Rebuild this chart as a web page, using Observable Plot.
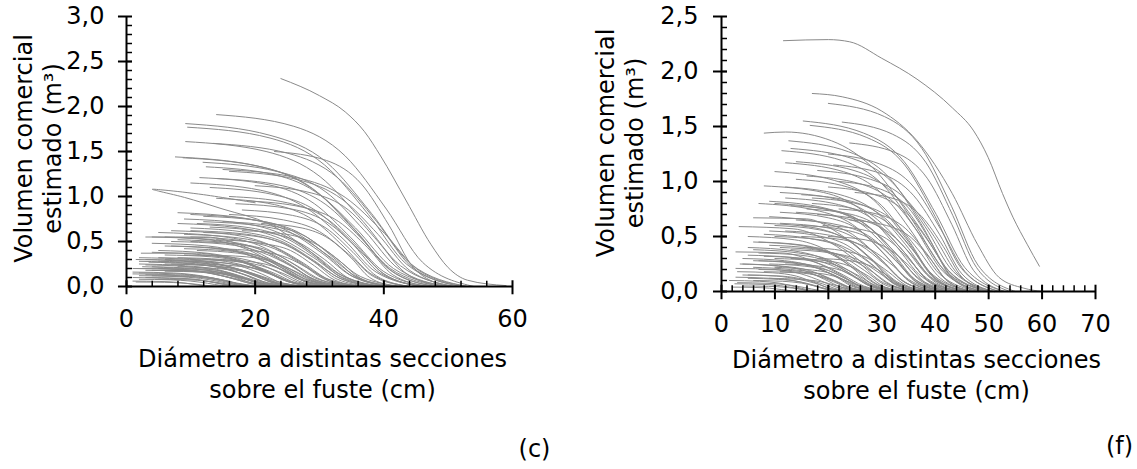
<!DOCTYPE html>
<html><head><meta charset="utf-8">
<script src="https://cdn.jsdelivr.net/npm/d3@7"></script>
<script src="https://cdn.jsdelivr.net/npm/@observablehq/plot@0.6"></script>
<style>
html,body{margin:0;padding:0;background:#fff;}
#wrap{position:relative;width:1137px;height:469px;overflow:hidden;background:#fff;}
#wrap svg{position:absolute;top:0;}
</style></head><body><div id="wrap"></div>
<script>
// ---------- Panel (c) ----------
const xTicksC = [0, 20, 40, 60];
const yTicksC = [0, 0.5, 1.0, 1.5, 2.0, 2.5, 3.0];
// each curve: x0,y0, x1,y1, ... (diameter cm, volume m3)
const curvesC = [
 [24,2.31,30,2.12,34,1.94,37,1.72,39.5,1.45,43.5,0.95,47.3,0.47,50,0.21,53,0.07,59,0.01],
 [14,1.91,26,1.78,34,1.45,40.4,0.86,46,0.27,54,0],
 [9.2,1.81,22.3,1.68,31.1,1.38,38.1,0.81,44.2,0.25,53,0],
 [9.5,1.77,22.3,1.65,30.8,1.35,37.6,0.8,43.5,0.25,52,0],
 [9.2,1.61,21.7,1.5,30.1,1.22,36.8,0.72,42.6,0.23,51,0],
 [13.5,1.59,25.1,1.48,32.8,1.21,38.9,0.72,44.3,0.22,52,0],
 [23,1.5,31.1,1.4,36.5,1.14,40.8,0.68,44.6,0.21,50,0],
 [7.6,1.44,20.3,1.34,28.8,1.09,35.6,0.65,41.5,0.2,50,0],
 [8.8,1.43,20.9,1.33,28.9,1.09,35.3,0.64,41,0.2,49,0],
 [11.9,1.38,23.3,1.28,31,1.05,37,0.62,42.4,0.19,50,0],
 [12.4,1.33,23.1,1.24,30.2,1.01,35.9,0.6,40.9,0.19,48,0],
 [11.4,1.21,22.1,1.13,29.2,0.92,34.9,0.54,39.9,0.17,47,0],
 [16,1.28,26.5,1.19,33.5,0.97,39.1,0.58,44,0.18,51,0],
 [10,1.15,20.8,1.07,28,0.87,33.8,0.52,38.8,0.16,46,0],
 [16,1,25,0.93,31,0.76,35.8,0.45,40,0.14,46,0],
 [14,0.98,23,0.91,29,0.74,33.8,0.44,38,0.14,44,0],
 [8,0.82,18.2,0.76,25,0.62,30.4,0.37,35.2,0.11,42,0],
 [10,0.8,19.9,0.74,26.5,0.61,31.8,0.36,36.4,0.11,43,0],
 [12,0.78,20.7,0.73,26.5,0.59,31.1,0.35,35.2,0.11,41,0],
 [9,0.75,18.3,0.7,24.5,0.57,29.5,0.34,33.8,0.11,40,0],
 [18,0.85,25.8,0.79,31,0.65,35.2,0.38,38.8,0.12,44,0],
 [15,0.72,22.8,0.67,28,0.55,32.2,0.32,35.8,0.1,41,0],
 [11,0.7,19.4,0.65,25,0.53,29.5,0.32,33.4,0.1,39,0],
 [13,0.66,21.1,0.61,26.5,0.5,30.8,0.3,34.6,0.09,40,0],
 [7,0.62,16,0.58,22,0.47,26.8,0.28,31,0.09,37,0],
 [5,0.6,14.3,0.56,20.5,0.46,25.5,0.27,29.8,0.08,36,0],
 [9,0.58,17.4,0.54,23,0.44,27.5,0.26,31.4,0.08,37,0],
 [12,0.6,19.8,0.56,25,0.46,29.2,0.27,32.8,0.08,38,0],
 [3,0.55,12.3,0.55,18.5,0.44,23.5,0.26,27.8,0.08,34,0],
 [6,0.55,14.7,0.51,20.5,0.42,25.1,0.25,29.2,0.08,35,0],
 [8,0.52,16.4,0.48,22,0.4,26.5,0.23,30.4,0.07,36,0],
 [10,0.5,17.2,0.47,22,0.38,25.8,0.23,29.2,0.07,34,0],
 [14,0.52,20.9,0.48,25.5,0.4,29.2,0.23,32.4,0.07,37,0],
 [4,0.48,12.7,0.45,18.5,0.36,23.1,0.22,27.2,0.07,33,0],
 [7,0.45,15.1,0.42,20.5,0.34,24.8,0.2,28.6,0.06,34,0],
 [2.3,0.37,10.9,0.37,16.7,0.3,21.2,0.18,25.3,0.05,31,0],
 [9,0.42,16.5,0.39,21.5,0.32,25.5,0.19,29,0.06,34,0],
 [5,0.4,12.5,0.37,17.5,0.3,21.5,0.18,25,0.06,30,0],
 [11,0.4,17.3,0.37,21.5,0.3,24.9,0.18,27.8,0.06,32,0],
 [6,0.35,13.2,0.33,18,0.27,21.8,0.16,25.2,0.05,30,0],
 [3,0.3,10.5,0.28,15.5,0.23,19.5,0.14,23,0.04,28,0],
 [8,0.32,14.9,0.3,19.5,0.24,23.2,0.14,26.4,0.04,31,0],
 [2,0.25,9.2,0.23,14,0.19,17.8,0.11,21.2,0.035,26,0],
 [5,0.28,11.9,0.26,16.5,0.21,20.2,0.13,23.4,0.04,28,0],
 [1.5,0.2,8.3,0.19,12.8,0.15,16.4,0.09,19.5,0.03,24,0],
 [4,0.22,10.6,0.2,15,0.17,18.5,0.1,21.6,0.03,26,0],
 [7,0.25,13,0.23,17,0.19,20.2,0.11,23,0.035,27,0],
 [2,0.15,8,0.14,12,0.11,15.2,0.07,18,0.02,22,0],
 [3,0.18,9.3,0.17,13.5,0.14,16.9,0.08,19.8,0.025,24,0],
 [1,0.1,6.7,0.09,10.5,0.08,13.5,0.045,16.2,0.014,20,0],
 [6,0.17,11.7,0.16,15.5,0.13,18.5,0.08,21.2,0.024,25,0],
 [2,0.08,6.8,0.074,10,0.06,12.6,0.036,14.8,0.011,18,0],
 [4,0.12,9.4,0.11,13,0.09,15.9,0.054,18.4,0.017,22,0],
 [1.5,0.05,5.9,0.047,8.8,0.038,11.1,0.023,13.1,0.007,16,0],
 [20,1.12,28.7,1.04,34.5,0.85,39.1,0.5,43.2,0.16,49,0],
 [17,0.92,25.7,0.86,31.5,0.7,36.1,0.41,40.2,0.13,46,0],
 [13,1.1,22.9,1.02,29.5,0.84,34.8,0.5,39.4,0.15,46,0],
 [21,0.7,27.3,0.65,31.5,0.53,34.9,0.32,37.8,0.1,42,0],
 [18,0.62,24.9,0.58,29.5,0.47,33.2,0.28,36.4,0.09,41,0],
 [15,1.3,26.4,1.21,34,0.99,40.1,0.59,45.4,0.18,53,0],
 [1,0.14,7.6,0.13,12,0.11,15.5,0.063,18.6,0.02,23,0],
 [3,0.24,9.6,0.22,14,0.18,17.5,0.11,20.6,0.034,25,0],
 [5,0.32,12.8,0.3,18,0.24,22.2,0.14,25.8,0.045,31,0],
 [2,0.28,9.5,0.26,14.5,0.21,18.5,0.13,22,0.04,27,0],
 [9,0.28,15.3,0.26,19.5,0.21,22.9,0.13,25.8,0.04,30,0],
 [6,0.45,14.1,0.42,19.5,0.34,23.8,0.2,27.6,0.06,33,0],
 [10,0.62,18.7,0.58,24.5,0.47,29.1,0.28,33.2,0.09,39,0],
 [8,0.7,17.6,0.65,24,0.53,29.1,0.32,33.6,0.1,40,0],
 [1,0.2,8.2,0.19,13,0.15,16.8,0.09,20.2,0.03,25,0],
 [2,0.12,7.7,0.11,11.5,0.09,14.5,0.054,17.2,0.017,21,0],
 [3,0.1,7.8,0.093,11,0.076,13.6,0.045,15.8,0.014,19,0],
 [4,0.18,10.6,0.17,15,0.14,18.5,0.08,21.6,0.025,26,0],
 [6,0.25,12.9,0.23,17.5,0.19,21.2,0.11,24.4,0.035,29,0],
 [8,0.22,14,0.2,18,0.17,21.2,0.1,24,0.03,28,0],
 [10,0.3,16.6,0.28,21,0.23,24.5,0.14,27.6,0.04,32,0],
 [12,0.35,18.6,0.33,23,0.27,26.5,0.16,29.6,0.05,34,0],
 [2,0.32,9.8,0.3,15,0.24,19.2,0.14,22.8,0.045,28,0],
 [4,0.38,12.1,0.35,17.5,0.29,21.8,0.17,25.6,0.05,31,0],
 [7,0.5,15.4,0.47,21,0.38,25.5,0.23,29.4,0.07,35,0],
 [10,0.55,17.8,0.51,23,0.42,27.2,0.25,30.8,0.08,36,0],
 [12,0.72,21,0.67,27,0.55,31.8,0.32,36,0.1,42,0],
 [16,0.8,24.4,0.74,30,0.61,34.5,0.36,38.4,0.11,44,0],
 [19,0.95,27.4,0.88,33,0.72,37.5,0.43,41.4,0.13,47,0],
 [14,1.2,24.2,1.12,31,0.91,36.4,0.54,41.2,0.17,48,0],
 [10,0.65,18.7,0.6,24.5,0.49,29.1,0.29,33.2,0.09,39,0],
 [1,0.06,5.2,0.056,8,0.046,10.2,0.027,12.2,0.008,15,0],
 [5,0.08,9.5,0.074,12.5,0.06,14.9,0.036,17,0.011,20,0],
 [14,0.42,20.6,0.39,25,0.32,28.5,0.19,31.6,0.06,36,0],
 [1.5,0.3,9,0.28,14,0.23,18,0.14,21.5,0.04,27,0],
 [2.5,0.22,9,0.2,13.5,0.17,17,0.1,20,0.03,25,0],
 [3.5,0.27,10.5,0.25,15,0.2,18.8,0.12,22,0.038,27,0],
 [5,0.2,11,0.19,15,0.15,18.3,0.09,21,0.028,25,0],
 [6,0.3,12.8,0.28,17.5,0.23,21,0.14,24.2,0.04,29,0],
 [7,0.18,12.5,0.17,16,0.14,18.9,0.08,21.5,0.025,25,0],
 [9,0.35,15.6,0.33,20,0.27,23.5,0.16,26.6,0.05,31,0],
 [11,0.25,16.7,0.23,20.5,0.19,23.5,0.11,26.2,0.035,30,0],
 [1,0.16,7.3,0.15,11.5,0.12,14.9,0.072,17.8,0.022,22,0],
 [3,0.13,8.4,0.12,12,0.1,14.9,0.06,17.4,0.018,21,0],
 [13,0.3,18.7,0.28,22.5,0.23,25.5,0.14,28.2,0.04,32,0],
 [4,0.55,12.7,0.52,18.5,0.42,23.1,0.25,27.2,0.08,33,0]
];
// the folded curve near 1,08
const loopC = [20,0.93,12,1.02,6,1.07,4,1.08,5,1.06,9,0.99,15,0.86,22,0.7,28,0.42,33,0.14,38,0.02,41,0];

// ---------- Panel (f) ----------
const xTicksF = [0, 10, 20, 30, 40, 50, 60, 70];
const yTicksF = [0, 0.5, 1.0, 1.5, 2.0, 2.5];
const curvesF = [
 [11.6,2.28,20,2.29,24,2.27,30,2.12,36.6,1.93,43.2,1.67,47.2,1.46,49.9,1.22,52.6,0.89,54.6,0.67,57.2,0.43,59.5,0.23],
 [17,1.8,22.6,1.77,30,1.64,36.6,1.37,43.2,0.89,47.9,0.43,51.9,0.13,56.6,0.03,60,0],
 [20,1.71,30.5,1.59,37.5,1.3,43.1,0.77,48,0.24,55,0],
 [15.3,1.55,26.6,1.44,34.2,1.18,40.2,0.7,45.5,0.22,53,0],
 [16.6,1.51,27.2,1.4,34.3,1.15,40,0.68,44.9,0.21,52,0],
 [22.6,1.54,32,1.43,38.3,1.17,43.3,0.69,47.7,0.22,54,0],
 [8,1.44,12,1.45,20.6,1.37,29,1.09,35.7,0.65,41.6,0.2,50,0],
 [12.6,1.37,23.8,1.27,31.3,1.04,37.3,0.62,42.5,0.19,50,0],
 [11.3,1.28,22.6,1.19,30.2,0.97,36.2,0.58,41.5,0.18,49,0],
 [12,1.17,22.8,1.09,30,0.89,35.8,0.53,40.8,0.16,48,0],
 [14,1.18,24.8,1.1,32,0.9,37.8,0.53,42.8,0.17,50,0],
 [10,1.09,21.1,1.01,28.5,0.83,34.4,0.49,39.6,0.15,47,0],
 [14,1.02,23.6,0.95,30,0.78,35.1,0.46,39.6,0.14,46,0],
 [8,0.96,19.1,0.9,26.5,0.73,32.4,0.43,37.6,0.13,45,0],
 [18,1.1,27.9,1.02,34.5,0.84,39.8,0.5,44.4,0.15,51,0],
 [20,1.25,29.6,1.16,36,0.95,41.1,0.56,45.6,0.18,52,0],
 [24,1.35,32.7,1.26,38.5,1.03,43.1,0.61,47.2,0.19,53,0],
 [9,0.82,19.2,0.76,26,0.62,31.4,0.37,36.2,0.11,43,0],
 [10,0.8,20.2,0.74,27,0.61,32.4,0.36,37.2,0.11,44,0],
 [12,0.85,21.9,0.79,28.5,0.65,33.8,0.38,38.4,0.12,45,0],
 [15,0.88,24.3,0.82,30.5,0.67,35.5,0.4,39.8,0.12,46,0],
 [13,0.78,21.7,0.73,27.5,0.59,32.1,0.35,36.2,0.11,42,0],
 [16,0.75,24.4,0.7,30,0.57,34.5,0.34,38.4,0.11,44,0],
 [11,0.72,20,0.67,26,0.55,30.8,0.32,35,0.1,41,0],
 [9,0.68,18.3,0.63,24.5,0.52,29.5,0.31,33.8,0.1,40,0],
 [6,0.67,15.9,0.66,22.5,0.51,27.8,0.3,32.4,0.09,39,0],
 [14,0.65,22.4,0.6,28,0.49,32.5,0.29,36.4,0.09,42,0],
 [18,0.7,26.1,0.65,31.5,0.53,35.8,0.32,39.6,0.1,45,0],
 [10,0.6,18.4,0.56,24,0.46,28.5,0.27,32.4,0.08,38,0],
 [3.3,0.59,13.4,0.57,20.2,0.45,25.5,0.27,30.3,0.08,37,0],
 [8,0.52,16.7,0.48,22.5,0.4,27.1,0.23,31.2,0.07,37,0],
 [10,0.5,18.4,0.47,24,0.38,28.5,0.23,32.4,0.07,38,0],
 [12,0.55,20.4,0.51,26,0.42,30.5,0.25,34.4,0.08,40,0],
 [7,0.45,15.4,0.42,21,0.34,25.5,0.2,29.4,0.06,35,0],
 [9,0.42,17.1,0.39,22.5,0.32,26.8,0.19,30.6,0.06,36,0],
 [2.7,0.36,11.5,0.35,17.4,0.27,22,0.16,26.1,0.05,32,0],
 [6,0.38,14.4,0.35,20,0.29,24.5,0.17,28.4,0.05,34,0],
 [11,0.4,18.8,0.37,24,0.3,28.2,0.18,31.8,0.06,37,0],
 [5,0.33,13.1,0.31,18.5,0.25,22.8,0.15,26.6,0.05,32,0],
 [8,0.32,15.5,0.3,20.5,0.24,24.5,0.14,28,0.045,33,0],
 [13,0.38,20.5,0.35,25.5,0.29,29.5,0.17,33,0.05,38,0],
 [7,0.28,14.2,0.26,19,0.21,22.8,0.13,26.2,0.04,31,0],
 [10,0.3,17.2,0.28,22,0.23,25.8,0.14,29.2,0.04,34,0],
 [4,0.25,11.5,0.23,16.5,0.19,20.5,0.11,24,0.035,29,0],
 [2.7,0.21,10,0.2,14.9,0.16,18.7,0.095,22.1,0.03,27,0],
 [6,0.22,12.9,0.2,17.5,0.17,21.2,0.1,24.4,0.03,29,0],
 [2.7,0.13,9.1,0.12,13.4,0.1,16.8,0.06,19.7,0.018,24,0],
 [5,0.15,11.3,0.14,15.5,0.11,18.9,0.07,21.8,0.02,26,0],
 [8,0.18,14.3,0.17,18.5,0.14,21.9,0.08,24.8,0.025,29,0],
 [3,0.08,8.7,0.074,12.5,0.06,15.5,0.036,18.2,0.011,22,0],
 [6,0.1,11.4,0.093,15,0.076,17.9,0.045,20.4,0.014,24,0],
 [4,0.05,8.8,0.047,12,0.038,14.6,0.023,16.8,0.007,20,0],
 [9,0.12,14.7,0.11,18.5,0.09,21.5,0.054,24.2,0.017,28,0],
 [2,0.04,6.2,0.037,9,0.03,11.2,0.018,13.2,0.006,16,0],
 [20,0.95,28.7,0.88,34.5,0.72,39.1,0.43,43.2,0.13,49,0],
 [22,1,29.8,0.93,35,0.76,39.2,0.45,42.8,0.14,48,0],
 [17,0.85,26,0.79,32,0.65,36.8,0.38,41,0.12,47,0],
 [25,0.9,32.5,0.84,37.5,0.68,41.5,0.41,45,0.13,50,0],
 [19,0.6,26.5,0.56,31.5,0.46,35.5,0.27,39,0.08,44,0],
 [15,0.5,22.8,0.47,28,0.38,32.2,0.23,35.8,0.07,41,0],
 [22,0.75,29.5,0.7,34.5,0.57,38.5,0.34,42,0.11,47,0],
 [11,0.9,21.5,0.84,28.5,0.68,34.1,0.41,39,0.13,46,0],
 [13,1.3,24.4,1.21,32,0.99,38.1,0.59,43.4,0.18,51,0],
 [7,0.8,17.5,0.74,24.5,0.61,30.1,0.36,35,0.11,42,0],
 [5,0.5,13.7,0.47,19.5,0.38,24.1,0.23,28.2,0.07,34,0],
 [16,0.4,22.9,0.37,27.5,0.3,31.2,0.18,34.4,0.06,39,0],
 [12,0.25,18.3,0.23,22.5,0.19,25.9,0.11,28.8,0.035,33,0],
 [18,0.3,24,0.28,28,0.23,31.2,0.14,34,0.04,38,0],
 [4,0.3,11.8,0.28,17,0.23,21.2,0.14,24.8,0.04,30,0],
 [6,0.45,14.7,0.42,20.5,0.34,25.1,0.2,29.2,0.06,35,0],
 [9,0.55,17.7,0.51,23.5,0.42,28.1,0.25,32.2,0.08,38,0],
 [11,0.62,19.7,0.58,25.5,0.47,30.1,0.28,34.2,0.09,40,0],
 [14,0.72,22.7,0.67,28.5,0.55,33.1,0.32,37.2,0.1,43,0],
 [17,0.8,25.7,0.74,31.5,0.61,36.1,0.36,40.2,0.11,46,0],
 [12,0.95,22.2,0.88,29,0.72,34.4,0.43,39.2,0.13,46,0],
 [16,1.05,25.9,0.98,32.5,0.8,37.8,0.47,42.4,0.15,49,0],
 [7,0.2,13.3,0.19,17.5,0.15,20.9,0.09,23.8,0.03,28,0],
 [10,0.22,16,0.2,20,0.17,23.2,0.1,26,0.03,30,0],
 [13,0.3,19.6,0.28,24,0.23,27.5,0.14,30.6,0.04,35,0],
 [3,0.18,9.6,0.17,14,0.14,17.5,0.08,20.6,0.025,25,0],
 [20,0.5,26.9,0.47,31.5,0.38,35.2,0.23,38.4,0.07,43,0],
 [24,0.65,30.9,0.6,35.5,0.49,39.2,0.29,42.4,0.09,47,0],
 [21,1.15,30,1.07,36,0.87,40.8,0.52,45,0.16,51,0],
 [8,0.62,17.3,0.58,23.5,0.47,28.5,0.28,32.8,0.09,39,0],
 [5,0.4,13.4,0.37,19,0.3,23.5,0.18,27.4,0.06,33,0],
 [1.5,0.1,7.1,0.093,10.8,0.076,13.7,0.045,16.3,0.014,20,0],
 [15,0.6,23.1,0.56,28.5,0.46,32.8,0.27,36.6,0.08,42,0],
 [3.5,0.25,10.7,0.23,15.5,0.19,19.3,0.11,22.7,0.035,28,0],
 [5,0.12,10.7,0.11,14.5,0.09,17.5,0.054,20.2,0.017,24,0],
 [7,0.35,14.8,0.33,20,0.27,24.2,0.16,27.8,0.05,33,0],
 [9,0.25,15.6,0.23,20,0.19,23.5,0.11,26.6,0.035,31,0],
 [4,0.15,10.3,0.14,14.5,0.11,17.9,0.07,20.8,0.02,25,0],
 [11,0.18,17,0.17,21,0.14,24.2,0.08,27,0.025,31,0],
 [6,0.28,13.2,0.26,18,0.21,21.8,0.13,25.2,0.04,30,0],
 [2.5,0.07,7.6,0.065,11,0.053,13.7,0.032,16,0.01,19,0]
];

const yTitle = "Volumen comercial\nestimado (m³)";
const xTitle = "Diámetro a distintas secciones\nsobre el fuste (cm)";

// ---------- helpers ----------
function toRows(curves) {
  const rows = [];
  curves.forEach((c, i) => { for (let k = 0; k < c.length; k += 2) rows.push({id: i, x: c[k], y: c[k + 1]}); });
  return rows;
}
const fmtY = d => d.toFixed(1).replace(".", ",");
const FONT = "'DejaVu Sans', Verdana, sans-serif";
const LINE = "#8a8a8a";

function panel(o) {
  return Plot.plot({
    width: o.width, height: 469,
    marginLeft: o.ml, marginRight: o.mr, marginTop: 16, marginBottom: o.mb,
    x: {domain: o.xDomain, axis: null},
    y: {domain: o.yDomain, axis: null},
    style: {fontFamily: FONT, fontSize: "24px", color: "#000", background: "transparent", overflow: "visible"},
    marks: [
      Plot.line(toRows(o.curves), {x: "x", y: "y", z: "id", stroke: LINE, strokeWidth: 1, curve: "monotone-x"}),
      ...(o.loop ? [Plot.line(toRows([o.loop]), {x: "x", y: "y", z: "id", stroke: LINE, strokeWidth: 1, curve: "catmull-rom"})] : []),
      Plot.ruleX([0], {stroke: "#000", strokeWidth: 2}),
      Plot.ruleY([0], {stroke: "#000", strokeWidth: 2}),
      Plot.ruleY(o.yMinor, {x1: 0, x2: o.inX, stroke: "#000", strokeWidth: 1.5}),
      Plot.ruleY(o.yTicks, {x1: -o.outX, x2: o.inX, stroke: "#000", strokeWidth: 2}),
      Plot.ruleX(o.xMinor, {y1: 0, y2: o.inY, stroke: "#000", strokeWidth: 1.5}),
      Plot.ruleX(o.xTicks, {y1: -o.outY, y2: o.inY * 1.1, stroke: "#000", strokeWidth: 2}),
      Plot.axisY(o.yTicks, {anchor: "left", tickSize: 0, tickPadding: o.yPad, tickFormat: fmtY, label: null, fontSize: 24}),
      Plot.axisX(o.xTicks, {anchor: "bottom", tickSize: 0, tickPadding: 23, tickFormat: d => String(d), label: null, fontSize: 24}),
      Plot.text([yTitle], {frameAnchor: "left", rotate: -90, dx: o.ytDx, dy: o.ytDy, lineHeight: 1.2, fontSize: 24, textAnchor: "middle", lineAnchor: "middle"}),
      Plot.text([xTitle], {frameAnchor: "bottom", dx: o.xtDx, dy: o.xtDy, lineHeight: 1.3, fontSize: 24, textAnchor: "middle", lineAnchor: "middle"}),
      Plot.text([o.tag], {frameAnchor: "bottom-right", dx: o.tagDx, dy: o.tagDy, fontSize: 24, textAnchor: "middle", lineAnchor: "middle"})
    ]
  });
}

const left = panel({
  width: 568, ml: 126, mr: 56, mb: 183,
  xDomain: [0, 60], yDomain: [0, 3],
  curves: curvesC, loop: loopC,
  xTicks: xTicksC, yTicks: yTicksC,
  xMinor: d3.range(4, 60, 4), yMinor: d3.range(1, 30).map(i => i / 10),
  outX: 1.25, inX: 0.93, outY: 0.092, inY: 0.058,
  yPad: 22, ytDx: -89, ytDy: -3,
  xtDx: 3, xtDy: 86, tag: "(c)", tagDx: 22, tagDy: 163
});
const right = panel({
  width: 569, ml: 153, mr: 42, mb: 178,
  xDomain: [0, 70], yDomain: [0, 2.5],
  curves: curvesF, loop: null,
  xTicks: xTicksF, yTicks: yTicksF,
  xMinor: d3.range(2, 70, 2), yMinor: d3.range(1, 25).map(i => i / 10),
  outX: 1.5, inX: 1.12, outY: 0.075, inY: 0.052,
  yPad: 23, ytDx: -102, ytDy: -11,
  xtDx: 8, xtDy: 82, tag: "(f)", tagDx: 24, tagDy: 155
});
left.style.left = "0px";
right.style.left = "568px";
const wrap = document.getElementById("wrap");
wrap.appendChild(left);
wrap.appendChild(right);
</script>
</body></html>
